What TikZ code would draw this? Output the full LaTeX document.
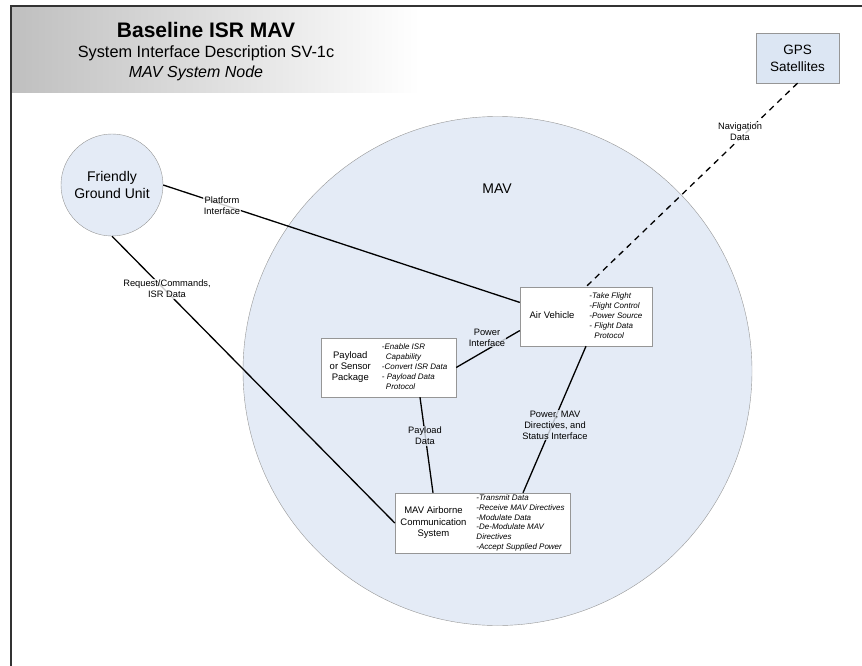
\documentclass[tikz,border=0pt]{standalone}
\usepackage{fontspec}
\setmainfont{Liberation Sans}
\usepackage{tikz}
\usetikzlibrary{positioning}

\definecolor{mavfill}{RGB}{228,235,246}
\definecolor{gpsfill}{RGB}{220,230,243}
\definecolor{rimgray}{RGB}{150,150,150}

% label on the left, italic function list on the right
\newcommand{\sysdesc}[3]{%
  \begin{tabular}{@{}c@{\hspace{#2}}l@{}}
  \fontsize{9.5}{11.3}\selectfont\begin{tabular}{@{}c@{}}#1\end{tabular} &
  \fontsize{8}{9.8}\selectfont\itshape\begin{tabular}{@{}l@{}}#3\end{tabular}
  \end{tabular}}

\begin{document}
\begin{tikzpicture}[x=1pt,y=-1pt,
  unit/.style={circle,draw=rimgray,fill=mavfill,align=center,
               font=\fontsize{14}{17}\selectfont},
  sysbox/.style={draw=rimgray,fill=white,inner sep=0pt},
  sat/.style={draw=rimgray,fill=gpsfill,align=center,minimum width=83pt,minimum height=50pt,
              font=\fontsize{13.5}{17}\selectfont},
  lbl/.style={align=center,inner sep=1pt,fill opacity=0.8,text opacity=1,
              font=\fontsize{9.3}{11}\selectfont},
  link/.style={line width=1.3pt}]
\useasboundingbox (0,0) rectangle (862,666);

% title band and frame
\shade[left color=black!25,right color=white] (11,6) rectangle (420,93);
\draw[line width=2.2pt,black!80] (11,666) -- (11,6) -- (862,6);
\node[anchor=base,font=\fontsize{21}{24}\selectfont\bfseries] (ttl) at (206,38) {Baseline ISR MAV};
\node[anchor=base,font=\fontsize{16.3}{18}\selectfont] (sub) at (206,58) {System Interface Description SV-1c};
\node[anchor=base,font=\fontsize{16}{18}\selectfont\itshape] (sys) at (196,78) {MAV System Node};

% nodes
\node[unit,minimum size=509pt] (mav) at (497.5,371) {};
\node[font=\fontsize{14}{17}\selectfont] (mavt) at (497,189) {MAV};
\node[unit,minimum size=102pt] (fgu) at (112,185) {Friendly\\Ground Unit};
\node[sat] (gps) at (797.5,58) {GPS\\Satellites};

\node[sysbox,minimum width=132pt,minimum height=59pt] (av) at (586,316.5)
  {\sysdesc{Air Vehicle}{15pt}{-Take Flight\\-Flight Control\\-Power Source\\- Flight Data\\\hspace{5pt}Protocol}};
\node[sysbox,minimum width=135pt,minimum height=59pt] (pl) at (388.5,367.5)
  {\sysdesc{Payload\\or Sensor\\Package}{11pt}{-Enable ISR\\\hspace{4pt}Capability\\-Convert ISR Data\\- Payload Data\\\hspace{4pt}Protocol}};
\node[sysbox,minimum width=175pt,minimum height=60pt] (mac) at (482.5,523)
  {\sysdesc{MAV Airborne\\Communication\\System}{10pt}{-Transmit Data\\-Receive MAV Directives\\-Modulate Data\\-De-Modulate MAV\\Directives\\-Accept Supplied Power}};

% interfaces
\draw[link] (fgu.east) -- (av.168);
\draw[link] (fgu.south) -- (mac.west);
\draw[link,dash pattern=on 6pt off 5pt] (gps.south) -- (av.north);
\draw[link] (pl.east) -- (av.192);
\draw[link] ([xshift=31.5pt]pl.south) -- ([xshift=-49.5pt]mac.north);
\draw[link] (av.south) -- ([xshift=40.5pt]mac.north);

\node[lbl,fill=white] (plat) at (222,206) {Platform\\Interface};
\node[lbl,fill=white] (req) at (167,289) {Request/Commands,\\ISR Data};
\node[lbl,fill=white] (nav) at (740,132) {Navigation\\Data};
\node[lbl,fill=mavfill] (pwr) at (487,337.5) {Power\\Interface};
\node[lbl,fill=mavfill] (pdat) at (425,436) {Payload\\Data};
\node[lbl,fill=mavfill] (pmav) at (555,425) {Power, MAV\\Directives, and\\Status Interface};
\end{tikzpicture}
\end{document}
